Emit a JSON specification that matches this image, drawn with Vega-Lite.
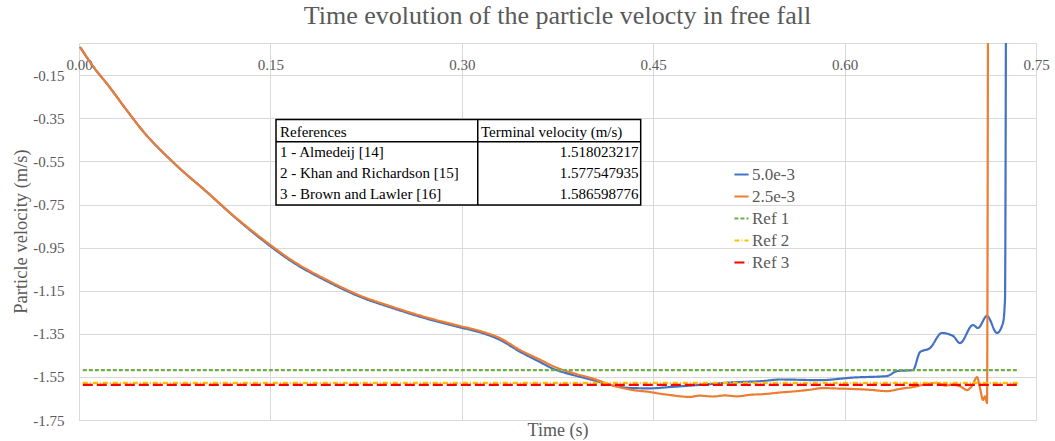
{
  "$schema": "https://vega.github.io/schema/vega-lite/v6.json",
  "width": 957,
  "height": 377,
  "autosize": {"type": "none"},
  "padding": {"left": 79, "top": 43, "right": 19, "bottom": 21},
  "background": "white",
  "title": {"text": "Time evolution of the particle velocty in free fall", "font": "Liberation Serif", "fontSize": 26, "fontWeight": "normal", "color": "#595959", "anchor": "middle", "offset": 14},
  "config": {"view": {"stroke": "#d9d9d9", "strokeWidth": 1}},
  "encoding": {
    "x": {"field": "t", "type": "quantitative", "scale": {"domain": [0, 0.75], "nice": false, "zero": false},
      "axis": {"values": [0, 0.15, 0.3, 0.45, 0.6, 0.75], "labelExpr": "replace(format(datum.value, '.2f'), '\u2212', '-')", "orient": "bottom", "grid": true, "gridColor": "#d9d9d9", "domain": false, "ticks": false, "tickSize": 0, "labelPadding": -356, "labelBaseline": "middle", "labelFlush": false, "labelOverlap": false, "labelFont": "Liberation Serif", "labelFontSize": 15, "labelColor": "#595959", "title": "Time (s)", "titleFont": "Liberation Serif", "titleFontSize": 18, "titleFontWeight": "normal", "titleColor": "#595959", "titleY": 10, "titleBaseline": "middle"}},
    "y": {"field": "v", "type": "quantitative", "scale": {"domain": [-1.75, 0], "nice": false, "zero": false},
      "axis": {"values": [-0.15, -0.35, -0.55, -0.75, -0.95, -1.15, -1.35, -1.55, -1.75], "labelExpr": "replace(format(datum.value, '.2f'), '\u2212', '-')", "grid": true, "gridColor": "#d9d9d9", "domain": false, "ticks": false, "tickSize": 0, "labelPadding": 15, "labelFont": "Liberation Serif", "labelFontSize": 15, "labelColor": "#595959", "labelOverlap": false, "title": "Particle velocity (m/s)", "titleFont": "Liberation Serif", "titleFontSize": 18.5, "titleFontWeight": "normal", "titleColor": "#595959", "titleX": -59, "titleY": 188, "titleAngle": -90, "titleAlign": "center", "titleBaseline": "middle"}}
  },
  "layer": [
    {
      "data": {"values": [{"t": 0.1544, "t2": 0.4402, "v": -0.3547, "v2": -0.7521}]},
      "mark": {"type": "rect", "fill": "white", "stroke": "black", "strokeWidth": 1.5},
      "encoding": {"x2": {"field": "t2"}, "y2": {"field": "v2"}}
    },
    {
      "data": {"values": [{"t": 0.3125, "t2": 0.3125, "v": -0.3547, "v2": -0.7521}, {"t": 0.1544, "t2": 0.4402, "v": -0.4582, "v2": -0.4582}]},
      "mark": {"type": "rule", "stroke": "black", "strokeWidth": 1.5},
      "encoding": {"x2": {"field": "t2"}, "y2": {"field": "v2"}}
    },
    {
      "data": {"values": [
        {"t": 0.1575, "v": -0.4118, "label": "References"},
        {"t": 0.3150, "v": -0.4118, "label": "Terminal velocity (m/s)"},
        {"t": 0.1575, "v": -0.5074, "label": "1 - Almedeij [14]"},
        {"t": 0.1575, "v": -0.6049, "label": "2 - Khan and Richardson [15]"},
        {"t": 0.1575, "v": -0.7010, "label": "3 - Brown and Lawler [16]"}
      ]},
      "mark": {"type": "text", "align": "left", "baseline": "middle", "font": "Liberation Serif", "fontSize": 15, "color": "black"},
      "encoding": {"text": {"field": "label"}}
    },
    {
      "data": {"values": [
        {"t": 0.4385, "v": -0.5074, "label": "1.518023217"},
        {"t": 0.4385, "v": -0.6049, "label": "1.577547935"},
        {"t": 0.4385, "v": -0.7010, "label": "1.586598776"}
      ]},
      "mark": {"type": "text", "align": "right", "baseline": "middle", "font": "Liberation Serif", "fontSize": 15, "color": "black"},
      "encoding": {"text": {"field": "label"}}
    },
    {
      "data": {"values": [
        {"s": "5.0e-3", "t": 0.0008, "v": -0.0186},
        {"s": "5.0e-3", "t": 0.0118, "v": -0.1147},
        {"s": "5.0e-3", "t": 0.0227, "v": -0.195},
        {"s": "5.0e-3", "t": 0.0361, "v": -0.3018},
        {"s": "5.0e-3", "t": 0.0494, "v": -0.4039},
        {"s": "5.0e-3", "t": 0.0752, "v": -0.5617},
        {"s": "5.0e-3", "t": 0.1011, "v": -0.6964},
        {"s": "5.0e-3", "t": 0.1223, "v": -0.8098},
        {"s": "5.0e-3", "t": 0.1418, "v": -0.9056},
        {"s": "5.0e-3", "t": 0.1677, "v": -1.018},
        {"s": "5.0e-3", "t": 0.1944, "v": -1.106},
        {"s": "5.0e-3", "t": 0.2202, "v": -1.178},
        {"s": "5.0e-3", "t": 0.2461, "v": -1.231},
        {"s": "5.0e-3", "t": 0.2727, "v": -1.28},
        {"s": "5.0e-3", "t": 0.2986, "v": -1.32},
        {"s": "5.0e-3", "t": 0.3143, "v": -1.343},
        {"s": "5.0e-3", "t": 0.3299, "v": -1.378},
        {"s": "5.0e-3", "t": 0.3456, "v": -1.433},
        {"s": "5.0e-3", "t": 0.3613, "v": -1.481},
        {"s": "5.0e-3", "t": 0.3715, "v": -1.512},
        {"s": "5.0e-3", "t": 0.3871, "v": -1.541},
        {"s": "5.0e-3", "t": 0.4028, "v": -1.565},
        {"s": "5.0e-3", "t": 0.4185, "v": -1.59},
        {"s": "5.0e-3", "t": 0.4342, "v": -1.602},
        {"s": "5.0e-3", "t": 0.4475, "v": -1.603},
        {"s": "5.0e-3", "t": 0.4632, "v": -1.597},
        {"s": "5.0e-3", "t": 0.4843, "v": -1.588},
        {"s": "5.0e-3", "t": 0.5102, "v": -1.576},
        {"s": "5.0e-3", "t": 0.5361, "v": -1.569},
        {"s": "5.0e-3", "t": 0.5494, "v": -1.562},
        {"s": "5.0e-3", "t": 0.5807, "v": -1.565},
        {"s": "5.0e-3", "t": 0.6066, "v": -1.553},
        {"s": "5.0e-3", "t": 0.6332, "v": -1.546},
        {"s": "5.0e-3", "t": 0.6411, "v": -1.523},
        {"s": "5.0e-3", "t": 0.6536, "v": -1.518},
        {"s": "5.0e-3", "t": 0.6591, "v": -1.435},
        {"s": "5.0e-3", "t": 0.6669, "v": -1.416},
        {"s": "5.0e-3", "t": 0.6763, "v": -1.346},
        {"s": "5.0e-3", "t": 0.685, "v": -1.36},
        {"s": "5.0e-3", "t": 0.6904, "v": -1.393},
        {"s": "5.0e-3", "t": 0.7006, "v": -1.309},
        {"s": "5.0e-3", "t": 0.7045, "v": -1.323},
        {"s": "5.0e-3", "t": 0.7116, "v": -1.267},
        {"s": "5.0e-3", "t": 0.7194, "v": -1.346},
        {"s": "5.0e-3", "t": 0.7241, "v": -1.3},
        {"s": "5.0e-3", "t": 0.7257, "v": -1.19},
        {"s": "5.0e-3", "t": 0.7265, "v": 0.3},
        {"s": "2.5e-3", "t": 0.0008, "v": -0.0186},
        {"s": "2.5e-3", "t": 0.0118, "v": -0.1147},
        {"s": "2.5e-3", "t": 0.0227, "v": -0.195},
        {"s": "2.5e-3", "t": 0.0361, "v": -0.3018},
        {"s": "2.5e-3", "t": 0.0494, "v": -0.4039},
        {"s": "2.5e-3", "t": 0.0752, "v": -0.5617},
        {"s": "2.5e-3", "t": 0.1011, "v": -0.6964},
        {"s": "2.5e-3", "t": 0.1223, "v": -0.8078},
        {"s": "2.5e-3", "t": 0.1418, "v": -0.9006},
        {"s": "2.5e-3", "t": 0.1677, "v": -1.012},
        {"s": "2.5e-3", "t": 0.1944, "v": -1.1003},
        {"s": "2.5e-3", "t": 0.2202, "v": -1.1722},
        {"s": "2.5e-3", "t": 0.2461, "v": -1.2256},
        {"s": "2.5e-3", "t": 0.2727, "v": -1.2744},
        {"s": "2.5e-3", "t": 0.2986, "v": -1.3138},
        {"s": "2.5e-3", "t": 0.3143, "v": -1.337},
        {"s": "2.5e-3", "t": 0.3299, "v": -1.37},
        {"s": "2.5e-3", "t": 0.3456, "v": -1.425},
        {"s": "2.5e-3", "t": 0.3613, "v": -1.47},
        {"s": "2.5e-3", "t": 0.3715, "v": -1.5},
        {"s": "2.5e-3", "t": 0.3871, "v": -1.532},
        {"s": "2.5e-3", "t": 0.4028, "v": -1.558},
        {"s": "2.5e-3", "t": 0.4185, "v": -1.59},
        {"s": "2.5e-3", "t": 0.4342, "v": -1.611},
        {"s": "2.5e-3", "t": 0.4475, "v": -1.62},
        {"s": "2.5e-3", "t": 0.4554, "v": -1.628},
        {"s": "2.5e-3", "t": 0.4632, "v": -1.634},
        {"s": "2.5e-3", "t": 0.471, "v": -1.64},
        {"s": "2.5e-3", "t": 0.4788, "v": -1.643},
        {"s": "2.5e-3", "t": 0.486, "v": -1.637},
        {"s": "2.5e-3", "t": 0.4969, "v": -1.641},
        {"s": "2.5e-3", "t": 0.506, "v": -1.636},
        {"s": "2.5e-3", "t": 0.5157, "v": -1.64},
        {"s": "2.5e-3", "t": 0.526, "v": -1.633},
        {"s": "2.5e-3", "t": 0.5361, "v": -1.63},
        {"s": "2.5e-3", "t": 0.55, "v": -1.622},
        {"s": "2.5e-3", "t": 0.5627, "v": -1.616},
        {"s": "2.5e-3", "t": 0.572, "v": -1.61},
        {"s": "2.5e-3", "t": 0.5831, "v": -1.602},
        {"s": "2.5e-3", "t": 0.595, "v": -1.604},
        {"s": "2.5e-3", "t": 0.6066, "v": -1.606},
        {"s": "2.5e-3", "t": 0.62, "v": -1.61},
        {"s": "2.5e-3", "t": 0.6332, "v": -1.616},
        {"s": "2.5e-3", "t": 0.644, "v": -1.605},
        {"s": "2.5e-3", "t": 0.6536, "v": -1.597},
        {"s": "2.5e-3", "t": 0.663, "v": -1.585},
        {"s": "2.5e-3", "t": 0.6724, "v": -1.578},
        {"s": "2.5e-3", "t": 0.679, "v": -1.59},
        {"s": "2.5e-3", "t": 0.685, "v": -1.586},
        {"s": "2.5e-3", "t": 0.691, "v": -1.595},
        {"s": "2.5e-3", "t": 0.6959, "v": -1.611},
        {"s": "2.5e-3", "t": 0.7, "v": -1.59},
        {"s": "2.5e-3", "t": 0.7038, "v": -1.551},
        {"s": "2.5e-3", "t": 0.7061, "v": -1.602},
        {"s": "2.5e-3", "t": 0.7085, "v": -1.657},
        {"s": "2.5e-3", "t": 0.71, "v": -1.64},
        {"s": "2.5e-3", "t": 0.7116, "v": -1.671},
        {"s": "2.5e-3", "t": 0.7124, "v": 0.3},
        {"s": "Ref 1", "t": 0.003, "v": -1.518023217},
        {"s": "Ref 1", "t": 0.7367, "v": -1.518023217},
        {"s": "Ref 2", "t": 0.003, "v": -1.577547935},
        {"s": "Ref 2", "t": 0.7367, "v": -1.577547935},
        {"s": "Ref 3", "t": 0.003, "v": -1.586598776},
        {"s": "Ref 3", "t": 0.7367, "v": -1.586598776}
      ]},
      "mark": {"type": "line", "clip": true, "interpolate": "monotone"},
      "encoding": {
        "color": {"field": "s", "type": "nominal",
          "scale": {"domain": ["5.0e-3", "2.5e-3", "Ref 1", "Ref 2", "Ref 3"], "range": ["#4472C4", "#ED7D31", "#70AD47", "#FFC000", "#FF0000"]},
          "legend": {"orient": "none", "legendX": 654, "legendY": 123, "title": null, "labelFont": "Liberation Serif", "labelFontSize": 17, "labelColor": "#595959", "symbolType": "stroke", "symbolSize": 200, "symbolStrokeWidth": 2, "rowPadding": 4, "labelOffset": 2, "padding": 0}},
        "strokeDash": {"field": "s", "type": "nominal",
          "scale": {"domain": ["5.0e-3", "2.5e-3", "Ref 1", "Ref 2", "Ref 3"], "range": [[1, 0], [1, 0], [4, 2], [5, 2, 1, 2], [10, 4]]}},
        "strokeWidth": {"field": "s", "type": "nominal", "legend": null,
          "scale": {"domain": ["5.0e-3", "2.5e-3", "Ref 1", "Ref 2", "Ref 3"], "range": [2.2, 2.2, 1.8, 1.8, 2]}}
      }
    }
  ]
}
